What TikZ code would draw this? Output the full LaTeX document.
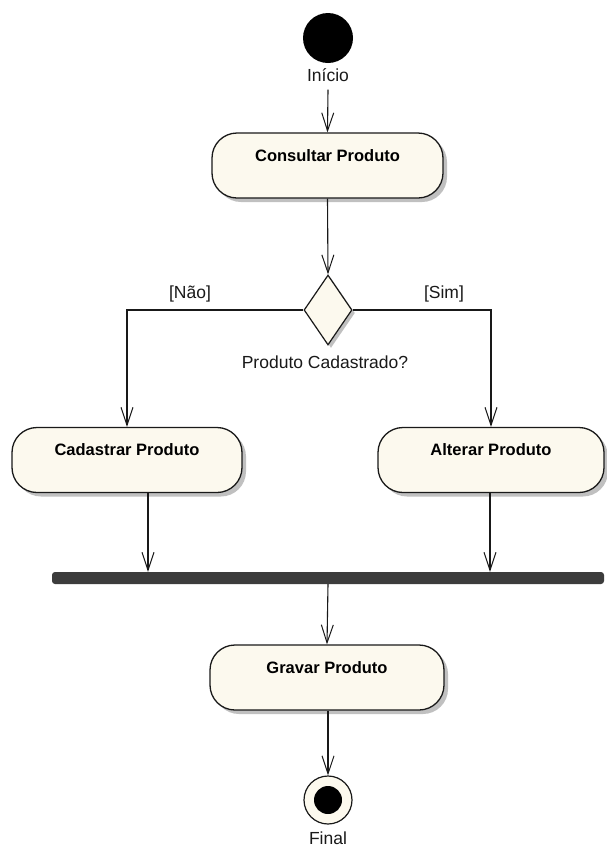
\documentclass[tikz,border=0pt]{standalone}
\usepackage{fontspec}
\setmainfont{Liberation Sans}
\usetikzlibrary{arrows.meta,shapes.geometric,shadows,calc}
\definecolor{cream}{RGB}{252,249,238}
\definecolor{barcol}{RGB}{60,60,60}
\definecolor{ink}{RGB}{25,25,25}
\tikzset{
  flow/.style={draw=ink, line width=1.1pt, -{Straight Barb[length=18pt,width=12pt,line width=1pt]}},
  act/.style={draw=ink, line width=1.3pt, fill=cream, rounded corners=25pt,
    font=\fontsize{16.5}{18}\selectfont\bfseries, inner xsep=0pt, inner ysep=16pt,
    text height=12pt, text depth=21pt,
    drop shadow={shadow xshift=4pt, shadow yshift=-4pt, fill=black!35, opacity=0.7}},
  lbl/.style={font=\fontsize{17.5}{19}\selectfont, text=ink, inner sep=2pt},
}
\begin{document}
\begin{tikzpicture}[x=1pt,y=-1pt]
\useasboundingbox (0,0) rectangle (606,852);
\fill[white] (0,0) rectangle (606,852);
% start
\node[circle, fill=black, minimum size=50pt, inner sep=0pt] (start) at (328,38) {};
\node[lbl, inner sep=8pt] (inilbl) at (328,75) {Início};
% activities
\node[act, minimum width=231pt] (cons) at (327.5,165.5) {Consultar Produto};
\node[diamond, draw=ink, line width=1.2pt, fill=cream, minimum width=48pt, minimum height=70pt, inner sep=0pt,
  drop shadow={shadow xshift=3pt, shadow yshift=-3pt, fill=black!35, opacity=0.7}] (dia) at (328,310) {};
\node[lbl] (dialbl) at (325,362) {Produto Cadastrado?};
\node[act, minimum width=230pt] (cad) at (127,460) {Cadastrar Produto};
\node[act, minimum width=226pt] (alt) at (491,460) {Alterar Produto};
\node[rectangle, fill=barcol, rounded corners=3pt, minimum width=552pt, minimum height=12pt, inner sep=0pt] (bar) at (328,578) {};
\node[act, minimum width=234pt] (grav) at (327,677.5) {Gravar Produto};
% final
\node[circle, draw=ink, line width=1.2pt, fill=cream, minimum size=48pt, inner sep=0pt] (fin) at (328,800) {};
\node[circle, fill=black, minimum size=28pt, inner sep=0pt] (fininner) at (fin.center) {};
\node[lbl] (finlbl) at (328,838) {Final};
% guards
\node[lbl] (nao) at (190,294) {[Não]};
\node[lbl] (sim) at (444,294) {[Sim]};
% connectors
\draw[flow] (inilbl.south) -- (cons.north);
\draw[flow] (cons.south) -- (dia.north);
\draw[flow] (dia.west) -| (cad.north);
\draw[flow] (dia.east) -| (alt.north);
\draw[flow] ([xshift=21pt]cad.south) -- ([xshift=21pt]cad.south |- bar.north);
\draw[flow] ([xshift=-1pt]alt.south) -- ([xshift=-1pt]alt.south |- bar.north);
\draw[flow] (bar.south) -- (grav.north);
\draw[flow] ([xshift=1pt]grav.south) -- (fin.north);
\end{tikzpicture}
\end{document}
